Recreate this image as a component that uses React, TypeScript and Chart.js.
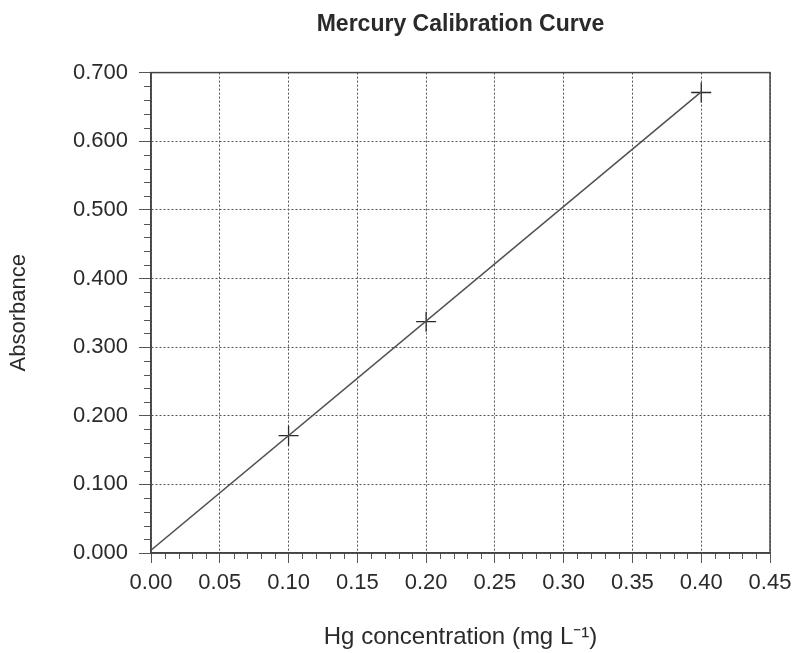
import React, { useEffect, useRef } from "react";
import { Chart, registerables } from "chart.js";

Chart.register(...registerables);

// Data
const concentrations = [0.1, 0.2, 0.4];
const absorbances = [0.171, 0.337, 0.671];
const fitX = [0, 0.4];
const fitY = [0.004, 0.672];

const xMin = 0;
const xMax = 0.45;
const xStep = 0.05;
const xMinorStep = 0.01;
const yMin = 0;
const yMax = 0.7;
const yStep = 0.1;
const yMinorStep = 0.02;

const chartTitle = "Mercury Calibration Curve";
const xTitle = "Hg concentration (mg L⁻¹)";
const yTitle = "Absorbance";

const FONT = "'Liberation Sans', Arial, Helvetica, sans-serif";
const INK = "#2a2a2a";
const GRID = "#555555";

const framePlugin = {
  id: "frameAndMinorTicks",
  afterDraw(chart: any) {
    const { ctx, chartArea, scales } = chart;
    const xs = scales.x;
    const ys = scales.y;
    ctx.save();
    ctx.strokeStyle = GRID;
    ctx.lineWidth = 1;
    ctx.setLineDash([]);
    const nx = Math.round((xMax - xMin) / xMinorStep);
    for (let i = 0; i <= nx; i++) {
      const v = xMin + i * xMinorStep;
      if (i % Math.round(xStep / xMinorStep) === 0) continue;
      const px = Math.round(xs.getPixelForValue(v)) + 0.5;
      ctx.beginPath();
      ctx.moveTo(px, chartArea.bottom);
      ctx.lineTo(px, chartArea.bottom + 6);
      ctx.stroke();
    }
    const ny = Math.round((yMax - yMin) / yMinorStep);
    for (let i = 0; i <= ny; i++) {
      const v = yMin + i * yMinorStep;
      if (i % Math.round(yStep / yMinorStep) === 0) continue;
      const py = Math.round(ys.getPixelForValue(v)) + 0.5;
      ctx.beginPath();
      ctx.moveTo(chartArea.left - 7, py);
      ctx.lineTo(chartArea.left, py);
      ctx.stroke();
    }
    ctx.lineWidth = 1.5;
    ctx.strokeStyle = "#444444";
    ctx.strokeRect(
      chartArea.left,
      chartArea.top,
      chartArea.right - chartArea.left,
      chartArea.bottom - chartArea.top
    );
    ctx.restore();
  },
};

export default function App() {
  const canvasRef = useRef<HTMLCanvasElement | null>(null);

  useEffect(() => {
    if (!canvasRef.current) return;
    const chart = new Chart(canvasRef.current, {
      type: "scatter",
      data: {
        datasets: [
          {
            label: "Calibration line",
            data: fitX.map((x, i) => ({ x, y: fitY[i] })),
            showLine: true,
            borderColor: "#505050",
            borderWidth: 1.5,
            pointRadius: 0,
            fill: false,
          },
          {
            label: "Standards",
            data: concentrations.map((x, i) => ({ x, y: absorbances[i] })),
            pointStyle: "cross",
            pointRadius: 10,
            pointBorderWidth: 1.3,
            borderColor: INK,
            backgroundColor: INK,
            showLine: false,
          },
        ],
      },
      options: {
        responsive: false,
        animation: false,
        layout: { padding: { left: 0, right: 30, top: 0, bottom: 0 } },
        plugins: {
          legend: { display: false },
          tooltip: { enabled: false },
          title: {
            display: true,
            text: chartTitle,
            fullSize: false,
            color: INK,
            font: { family: FONT, size: 23, weight: "bold" },
            padding: { top: 11, bottom: 34 },
          },
        },
        scales: {
          x: {
            type: "linear",
            min: xMin,
            max: xMax,
            afterFit: (scale: any) => {
              scale.height = 100;
            },
            ticks: {
              stepSize: xStep,
              color: INK,
              padding: 7,
              font: { family: FONT, size: 22 },
              callback: (v: any) => Number(v).toFixed(2),
            },
            grid: {
              color: GRID,
              lineWidth: 1,
              tickLength: 10,
              tickColor: GRID,
              tickBorderDash: [],
            },
            border: { display: true, color: "#444444", width: 1.5, dash: [2, 2] },
            title: {
              display: true,
              text: xTitle,
              color: INK,
              font: { family: FONT, size: 24 },
              padding: { top: 0, bottom: 1 },
            },
          },
          y: {
            type: "linear",
            min: yMin,
            max: yMax,
            afterFit: (scale: any) => {
              scale.width = 151;
            },
            ticks: {
              stepSize: yStep,
              color: INK,
              padding: 11,
              font: { family: FONT, size: 22 },
              callback: (v: any) => Number(v).toFixed(3),
            },
            grid: {
              color: GRID,
              lineWidth: 1,
              tickLength: 12,
              tickColor: GRID,
              tickBorderDash: [],
            },
            border: { display: true, color: "#444444", width: 1.5, dash: [2, 2] },
            title: {
              display: true,
              text: yTitle,
              color: INK,
              font: { family: FONT, size: 22 },
              padding: { top: 6, bottom: 0 },
            },
          },
        },
      },
      plugins: [framePlugin],
    } as any);
    return () => chart.destroy();
  }, []);

  return (
    <div style={{ position: "absolute", left: 0, top: 0, width: 800, height: 653, background: "#fff" }}>
      <canvas ref={canvasRef} width={800} height={653} style={{ display: "block" }} />
    </div>
  );
}
